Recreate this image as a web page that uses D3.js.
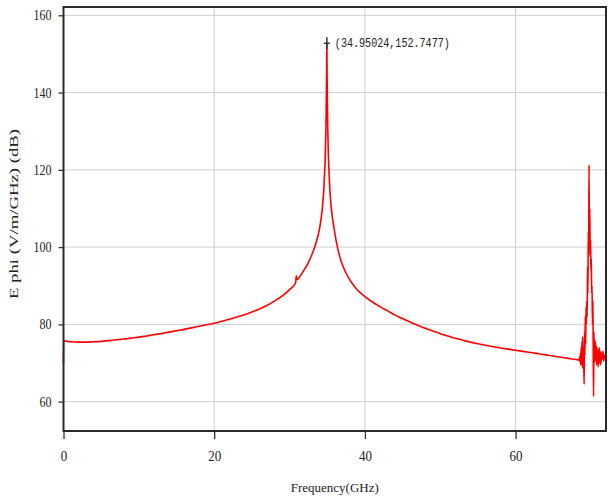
<!DOCTYPE html>
<html>
<head>
<meta charset="utf-8">
<script src="https://cdn.jsdelivr.net/npm/d3@7"></script>
<style>
  body { margin: 0; background: #fff; }
  svg { display: block; }
</style>
</head>
<body>
<svg id="canvas" width="608" height="496"></svg>
<script>
// frequency (GHz) and E phi (dB)
let freq = [0, 0.02, 0.5, 1, 2, 3, 4, 5, 6, 7, 8, 9, 10, 11, 12, 13, 14, 15, 16, 17, 18, 19, 20,
    21, 22, 23, 24, 25, 26, 27, 28, 29, 30, 30.8, 30.9, 31.0, 31.5, 32, 32.5, 33, 33.5, 34, 34.2,
    34.4, 34.55, 34.65, 34.75, 34.82, 34.88, 34.92, 34.95, 34.98, 35.02, 35.08, 35.15, 35.25,
    35.35, 35.5, 35.7, 35.9, 36.2, 36.6, 37, 37.5, 38, 38.5, 39, 39.5, 40, 41, 42, 43, 44, 45,
    46, 47, 48, 49, 50, 51, 52, 53, 54, 55, 56, 57, 58, 59, 60, 61, 62, 63, 64, 65, 66, 67, 68, 68.4,
    68.5, 68.55, 68.6, 68.65, 68.7, 68.75, 68.8, 68.85, 68.9, 68.95, 69.0, 69.05, 69.1, 69.15,
    69.2, 69.25, 69.3, 69.35, 69.4, 69.45, 69.5, 69.55, 69.6, 69.65, 69.7, 69.75, 69.8, 69.85,
    69.9, 69.95, 70.0, 70.05, 70.1, 70.15, 70.2, 70.25, 70.3, 70.35, 70.4, 70.45, 70.5, 70.55,
    70.6, 70.65, 70.7, 70.75, 70.8, 70.85, 70.9, 70.95, 71.0, 71.05, 71.1, 71.15, 71.2, 71.25,
    71.3, 71.35, 71.4, 71.5, 71.6, 71.7, 71.8, 71.9, 72]
let ephi = [70, 75.8, 75.6, 75.5, 75.4, 75.4, 75.5, 75.6, 75.8, 76.0, 76.2, 76.45, 76.7, 77.0,
    77.3, 77.65, 78.0, 78.35, 78.7, 79.1, 79.5, 79.9, 80.3,
    80.8, 81.3, 81.9, 82.5, 83.2, 84.0, 84.9, 86.0, 87.3, 89.0, 90.7, 92.6, 91.6, 92.8, 94.3, 96.0,
    98.2, 101, 105, 107.5, 111, 115, 119, 124, 130, 138, 145, 152.75, 145, 138, 130, 124, 119,
    115, 111, 107.5, 105, 101.5, 98, 95.5, 93.3, 91.5, 90.1, 88.9, 88.0, 87.2, 85.8, 84.6, 83.5,
    82.4, 81.5, 80.6, 79.8, 79.0, 78.3, 77.6, 77.0, 76.4, 75.9, 75.4, 75.0, 74.6, 74.2, 73.9,
    73.6, 73.3, 73.0, 72.7, 72.4, 72.1, 71.8, 71.5, 71.2, 70.9, 70.8,
    71.5, 70.2, 72.5, 69.5, 73.8, 70, 75.5, 69, 76.8, 68.5, 74, 70, 64.5, 78, 72, 82, 75, 84.5,
    80, 86, 82, 95, 88, 104, 98, 121.3, 100, 110, 97.5, 102, 94, 97, 88, 90, 80, 86, 75, 61.3,
    78, 70, 76, 71, 75.5, 70.5, 74.5, 69.5, 74, 70, 73.5, 69, 73, 70, 74, 70.5, 72.5, 69.5, 73,
    70, 72.5, 71, 73, 70.5, 72, 71.5, 72]

let xTicks = [0, 20, 40, 60]
let yTicks = [60, 80, 100, 120, 140, 160]
let peakF = 34.95024
let peakV = 152.7477
let peakLabel = '(34.95024,152.7477)'

let svg = d3.select('#canvas')
let plotL = 63.5, plotT = 7, plotR = 606, plotB = 431

let xScale = d3.scaleLinear().domain([0, 72]).range([plotL, plotR])
let yScale = d3.scaleLinear().domain([52.4, 162.15]).range([plotB, plotT])

// grid
svg.append('g')
    .selectAll('line')
    .data(yTicks)
    .enter()
    .append('line')
    .attr('x1', plotL).attr('x2', plotR)
    .attr('y1', (d) => yScale(d)).attr('y2', (d) => yScale(d))
    .attr('stroke', '#cfcfcf')
    .attr('stroke-width', 1)

svg.append('g')
    .selectAll('line')
    .data(xTicks.filter((d) => d > 0))
    .enter()
    .append('line')
    .attr('x1', (d) => xScale(d)).attr('x2', (d) => xScale(d))
    .attr('y1', plotT).attr('y2', plotB)
    .attr('stroke', '#cfcfcf')
    .attr('stroke-width', 1)

// axes
let xAxis = d3.axisBottom(xScale).tickValues(xTicks).tickSize(8).tickFormat(d3.format('d'))
let yAxis = d3.axisLeft(yScale).tickValues(yTicks).tickSize(5).tickFormat(d3.format('d'))

let gx = svg.append('g')
    .attr('transform', 'translate(0,' + plotB + ')')
    .call(xAxis)
let gy = svg.append('g')
    .attr('transform', 'translate(' + plotL + ',0)')
    .call(yAxis)

gx.select('.domain').remove()
gy.select('.domain').remove()
gx.selectAll('.tick line').attr('stroke', '#333').attr('stroke-width', 1.3)
gy.selectAll('.tick line').attr('stroke', '#333').attr('stroke-width', 1.3)

gx.selectAll('.tick text')
    .attr('y', 20)
    .attr('dy', '0.71em')
    .attr('font-family', 'Liberation Serif, serif')
    .attr('font-size', 14)
    .attr('fill', '#222')
    .attr('textLength', (d) => String(d).length * 6.5)
    .attr('lengthAdjust', 'spacingAndGlyphs')

gy.selectAll('.tick text')
    .attr('x', -12)
    .attr('font-family', 'Liberation Serif, serif')
    .attr('font-size', 14)
    .attr('fill', '#222')
    .attr('textLength', (d) => String(d).length * 6)
    .attr('lengthAdjust', 'spacingAndGlyphs')

// data line
let line = d3.line()
    .x((d, i) => xScale(freq[i]))
    .y((d) => yScale(d))
    .curve(d3.curveMonotoneX)

svg.append('path')
    .datum(ephi)
    .attr('d', line)
    .attr('fill', 'none')
    .attr('stroke', '#ff0000')
    .attr('stroke-width', 1.6)
    .attr('stroke-linejoin', 'round')

// frame
svg.append('rect')
    .attr('x', plotL).attr('y', plotT)
    .attr('width', plotR - plotL).attr('height', plotB - plotT)
    .attr('fill', 'none')
    .attr('stroke', '#2a2a2a')
    .attr('stroke-width', 2)

// peak marker
let px = xScale(peakF), py = yScale(peakV)
svg.append('path')
    .attr('d', 'M' + px + ',' + (py - 6) + 'V' + (py + 6) + 'M' + (px - 3) + ',' + py + 'H' + (px + 3))
    .attr('stroke', '#333')
    .attr('stroke-width', 1.5)

svg.append('text')
    .text(peakLabel)
    .attr('x', px + 8)
    .attr('y', py + 4)
    .attr('font-family', 'Liberation Mono, monospace')
    .attr('font-size', 12)
    .attr('fill', '#222')
    .attr('textLength', 115)
    .attr('lengthAdjust', 'spacingAndGlyphs')

// titles
svg.append('text')
    .text('Frequency(GHz)')
    .attr('x', (plotL + plotR) / 2)
    .attr('y', 492)
    .attr('text-anchor', 'middle')
    .attr('font-family', 'Liberation Serif, serif')
    .attr('font-size', 13)
    .attr('fill', '#222')

svg.append('text')
    .text('E phi (V/m/GHz) (dB)')
    .attr('transform', 'translate(18,' + 214 + ') rotate(-90)')
    .attr('text-anchor', 'middle')
    .attr('font-family', 'Liberation Serif, serif')
    .attr('font-size', 13)
    .attr('fill', '#222')
    .attr('textLength', 170)
    .attr('lengthAdjust', 'spacingAndGlyphs')
</script>
</body>
</html>
